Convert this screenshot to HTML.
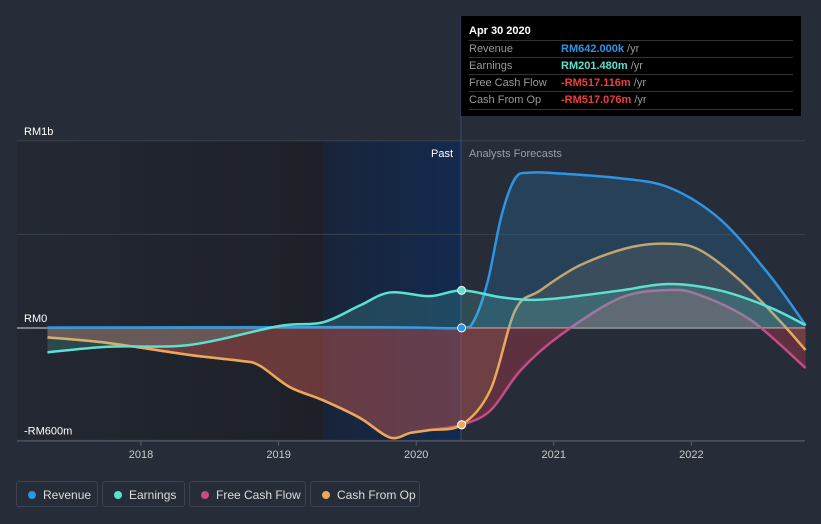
<!DOCTYPE html>
<html><head><meta charset="utf-8"><style>
body{margin:0;background:#262c38;font-family:"Liberation Sans",sans-serif;}
#wrap{position:relative;width:821px;height:524px;overflow:hidden;background:#262c38;}
.tt{position:absolute;left:461px;top:16px;width:340px;height:100px;background:#000;color:#fff;font-size:11px;}
.tt .h{position:absolute;left:8px;top:9px;font-weight:bold;font-size:11px;}
.row{position:absolute;left:8px;width:324px;height:17px;border-top:1px solid #333;line-height:17px;color:#999;}
.row span{position:absolute;left:92px;font-weight:bold;}
.row i{font-style:normal;color:#999;font-weight:normal;}
.leg{position:absolute;top:481px;height:26px;border:1px solid #3c4454;border-radius:3px;color:#ddd;font-size:12px;line-height:26px;padding-left:26px;box-sizing:border-box;}
.leg b{position:absolute;left:11px;top:9px;width:8px;height:8px;border-radius:50%;}
</style></head><body>
<div id="wrap">
<svg id="svg" width="821" height="524" style="position:absolute;left:0;top:0">
<defs>
<linearGradient id="pastg" x1="0" x2="1"><stop offset="0" stop-color="#232833"/><stop offset="1" stop-color="#1d2027"/></linearGradient>
<linearGradient id="hlg" x1="0" x2="1"><stop offset="0" stop-color="#19243a"/><stop offset="1" stop-color="#132a4e"/></linearGradient>
</defs>
<rect x="17" y="141" width="306" height="300" fill="url(#pastg)"/>
<rect x="323" y="141" width="138" height="300" fill="url(#hlg)"/>
<g id="grid"></g>
<line x1="461" y1="16" x2="461" y2="441" stroke="#2f4f80" stroke-width="1"/>
<g id="series"></g>
<text x="453" y="157" fill="#fff" font-size="11" text-anchor="end">Past</text>
<text x="469" y="157" fill="#9aa0aa" font-size="11">Analysts Forecasts</text>
<g id="axis"></g>
<g id="markers"></g>
</svg>
<div class="tt">
<div class="h">Apr 30 2020</div>
<div class="row" style="top:24px">Revenue<span style="color:#2d95e3">RM642.000k <i>/yr</i></span></div>
<div class="row" style="top:41px">Earnings<span style="color:#5ee0cf">RM201.480m <i>/yr</i></span></div>
<div class="row" style="top:58px">Free Cash Flow<span style="color:#e8403f">-RM517.116m <i>/yr</i></span></div>
<div class="row" style="top:75px;border-bottom:1px solid #333">Cash From Op<span style="color:#e8403f">-RM517.076m <i>/yr</i></span></div>
</div>
<div class="leg" style="left:16px;width:82px"><b style="background:#2d95e3"></b>Revenue</div>
<div class="leg" style="left:102px;width:83px"><b style="background:#5ee0cf"></b>Earnings</div>
<div class="leg" style="left:189px;width:117px"><b style="background:#c84a86"></b>Free Cash Flow</div>
<div class="leg" style="left:310px;width:110px"><b style="background:#e8a958"></b>Cash From Op</div>
</div>
<script>
const yTicks=[1000,0,-600];
const yTickLabels=["RM1b","RM0","-RM600m"];
const xYears=[2018,2019,2020,2021,2022];
const revT=[2017.32,2018.5,2019.5,2020.0,2020.33,2020.42,2020.52,2020.62,2020.72,2020.83,2021.05,2021.48,2021.84,2022.21,2022.57,2022.83];
const revV=[3,4,5,2,0.6,40,250,600,800,830,825,800,750,580,280,15];
const earnT=[2017.32,2017.76,2018.36,2019.0,2019.32,2019.59,2019.81,2020.10,2020.33,2020.61,2020.83,2021.05,2021.48,2021.84,2022.21,2022.57,2022.83];
const earnV=[-130,-100,-90,10,30,120,190,170,201,165,150,160,200,235,200,110,15];
const cfoT=[2017.32,2017.76,2018.36,2018.72,2018.86,2019.08,2019.32,2019.59,2019.81,2019.96,2020.10,2020.33,2020.54,2020.72,2020.9,2021.19,2021.55,2021.84,2022.06,2022.35,2022.64,2022.83];
const cfoV=[-50,-80,-145,-175,-200,-315,-385,-480,-585,-560,-545,-517,-330,95,200,335,430,450,417,257,40,-118];
const fcfT=[2017.32,2017.76,2018.36,2018.72,2018.86,2019.08,2019.32,2019.59,2019.81,2019.96,2020.10,2020.33,2020.54,2020.76,2021.05,2021.48,2021.84,2022.06,2022.43,2022.83];
const fcfV=[-50,-80,-145,-175,-200,-315,-385,-480,-585,-560,-545,-517,-440,-225,-37,160,203,176,43,-214];
const X=t=>141+(t-2018)*137.6, Y=v=>328-v*0.1872;
const NS="http://www.w3.org/2000/svg";
function mk(tag,a,parent){const e=document.createElementNS(NS,tag);for(const k in a)e.setAttribute(k,a[k]);parent.appendChild(e);return e;}
function path(T,V){const p=T.map((t,i)=>[X(t),Y(V[i])]);let d="M"+p[0][0]+","+p[0][1];
for(let i=0;i<p.length-1;i++){const p0=p[i-1]||p[i],p1=p[i],p2=p[i+1],p3=p[i+2]||p2;
const c1=[p1[0]+(p2[0]-p0[0])/6,p1[1]+(p2[1]-p0[1])/6],c2=[p2[0]-(p3[0]-p1[0])/6,p2[1]-(p3[1]-p1[1])/6];
d+=`C${c1[0]},${c1[1]} ${c2[0]},${c2[1]} ${p2[0]},${p2[1]}`;}return {d,p};}
const grid=document.getElementById('grid'),ser=document.getElementById('series'),ax=document.getElementById('axis'),mkr=document.getElementById('markers');
[1000,500,0,-600].forEach(v=>{const l=mk('line',{x1:17,x2:805,y1:Y(v),y2:Y(v),stroke:v===0?'#9a9ea6':'#3a414e','stroke-width':v===0?1.5:1},grid);

});
yTicks.forEach((v,i)=>{const t=mk('text',{x:24,y:Y(v)-6,fill:'#fff','font-size':11},ax);t.textContent=yTickLabels[i];

});
mk('line',{x1:17,x2:805,y1:441,y2:441,stroke:'#555c68'},ax);
xYears.forEach(y=>{mk('line',{x1:X(y),x2:X(y),y1:441,y2:446,stroke:'#555c68'},ax);
const t=mk('text',{x:X(y),y:458,fill:'#ccc','font-size':11,'text-anchor':'middle'},ax);t.textContent=y;

});
const S=[[fcfT,fcfV,'#c84a86','rgba(200,60,80,0.35)','fcf'],[cfoT,cfoV,'#e8a958','rgba(232,169,88,0.12)','cash-from-op'],[revT,revV,'#2d95e3','rgba(45,149,227,0.2)','revenue'],[earnT,earnV,'#5ee0cf','rgba(94,224,207,0.18)','earnings']];
S.forEach(s=>{const {d,p}=path(s[0],s[1]);
const a=mk('path',{d:d+`L${p[p.length-1][0]},328L${p[0][0]},328Z`,fill:s[3]},ser);


const l=mk('path',{d,fill:'none',stroke:s[2],'stroke-width':2.5},ser);


const i=s[0].indexOf(2020.33);
const c=mk('circle',{cx:X(2020.33),cy:Y(s[1][i]),r:4,fill:s[2],stroke:'#fff','stroke-width':1},mkr);

});
</script>
</body></html>
